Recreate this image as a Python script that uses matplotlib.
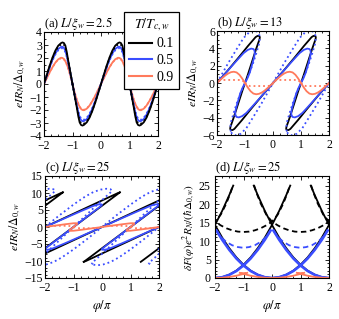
import numpy as np
import matplotlib.pyplot as plt
from matplotlib.ticker import MultipleLocator
from matplotlib.lines import Line2D

plt.rcParams['font.family'] = 'serif'
plt.rcParams['font.serif'] = ['Liberation Serif', 'DejaVu Serif']
plt.rcParams['mathtext.fontset'] = 'stix'
plt.rcParams['font.size'] = 7.5

# colours for T/Tc = 0.1, 0.5, 0.9
c_blk = 'black'
c_blu = '#3a4dff'
c_org = '#ff7a5c'

# ---------------- (a) L/xi = 2.5, one period phi/pi in [-1, 1] ----------------
phi_a = [-1.0, -0.95, -0.9, -0.85, -0.8, -0.75, -0.7, -0.65, -0.6, -0.5, -0.4, -0.3, -0.2, -0.1,
         0.0, 0.1, 0.2, 0.3, 0.4, 0.5, 0.6, 0.65, 0.7, 0.75, 0.8, 0.85, 0.9, 0.95, 1.0]
I_a_blk = [0, -0.6, -1.2, -1.8, -2.45, -2.95, -3.15, -3.2, -3.15, -2.95, -2.58, -2.05, -1.42, -0.72,
           0, 0.72, 1.42, 2.05, 2.58, 2.95, 3.15, 3.2, 3.15, 2.95, 2.45, 1.8, 1.2, 0.6, 0]
I_a_blu = [0, -0.56, -1.12, -1.65, -2.15, -2.55, -2.78, -2.86, -2.85, -2.7, -2.35, -1.88, -1.3, -0.66,
           0, 0.66, 1.3, 1.88, 2.35, 2.7, 2.85, 2.86, 2.78, 2.55, 2.15, 1.65, 1.12, 0.56, 0]
I_a_org = [0, -0.43, -0.85, -1.22, -1.52, -1.75, -1.92, -2.0, -2.02, -1.9, -1.65, -1.3, -0.9, -0.45,
           0, 0.45, 0.9, 1.3, 1.65, 1.9, 2.02, 2.0, 1.92, 1.75, 1.52, 1.22, 0.85, 0.43, 0]
I_a_blk_dot = [0, -0.58, -1.17, -1.75, -2.35, -2.8, -3.03, -3.1, -3.05, -2.88, -2.5, -2.0, -1.38, -0.7,
               0, 0.7, 1.38, 2.0, 2.5, 2.88, 3.05, 3.1, 3.03, 2.8, 2.35, 1.75, 1.17, 0.58, 0]
I_a_blu_dot = [0, -0.55, -1.1, -1.6, -2.08, -2.45, -2.66, -2.75, -2.75, -2.6, -2.28, -1.82, -1.26, -0.64,
               0, 0.64, 1.26, 1.82, 2.28, 2.6, 2.75, 2.75, 2.66, 2.45, 2.08, 1.6, 1.1, 0.55, 0]
I_a_org_dot = [0, -0.42, -0.83, -1.2, -1.5, -1.74, -1.9, -1.98, -1.98, -1.88, -1.65, -1.3, -0.9, -0.45,
               0, 0.45, 0.9, 1.3, 1.65, 1.88, 1.98, 1.98, 1.9, 1.74, 1.5, 1.2, 0.83, 0.42, 0]
shifts_a = [-2, 0, 2]

# ---------------- (b) L/xi = 13: branch through 0 + connector through 1 ----------------
phi_b_blk = [-1.5, -1.44, -1.38, -1.3, -1.1, -0.8, -0.4, 0.0, 0.4, 0.8, 1.1, 1.3, 1.38, 1.44, 1.5,
             1.53, 1.52, 1.47, 1.4, 1.3, 1.2, 1.1, 1.0, 0.9, 0.8, 0.7, 0.6, 0.53, 0.48, 0.47, 0.5]
I_b_blk = [-5.45, -5.42, -5.3, -5.0, -4.25, -3.05, -1.5, 0.0, 1.5, 3.05, 4.25, 5.0, 5.3, 5.42, 5.45,
           5.3, 5.05, 4.6, 3.95, 2.95, 1.95, 0.95, 0.0, -0.95, -1.95, -2.95, -3.95, -4.6, -5.05, -5.3, -5.45]
phi_b_blu = [-1.34, -1.3, -1.22, -1.1, -0.95, -0.75, -0.5, -0.25, 0.0, 0.25, 0.5, 0.75, 0.95, 1.1, 1.22,
             1.3, 1.34, 1.35, 1.32, 1.25, 1.17, 1.08, 1.0, 0.92, 0.83, 0.75, 0.68, 0.65, 0.66]
I_b_blu = [-3.75, -3.92, -3.97, -3.82, -3.45, -2.75, -1.85, -0.92, 0.0, 0.92, 1.85, 2.75, 3.45, 3.82, 3.97,
           3.92, 3.75, 3.4, 2.9, 2.1, 1.2, 0.5, 0.0, -0.5, -1.2, -2.1, -2.9, -3.4, -3.75]
phi_b_bld = [-1.5, -1.42, -1.3, -1.15, -0.95, -0.7, -0.4, 0.0, 0.4, 0.7, 0.95, 1.15, 1.3, 1.42, 1.5,
             1.53, 1.5, 1.4, 1.28, 1.14, 1.0, 0.86, 0.72, 0.6, 0.5, 0.47, 0.5]
I_b_bld = [-5.7, -5.95, -6.05, -5.85, -5.2, -3.9, -2.3, 0.0, 2.3, 3.9, 5.2, 5.85, 6.05, 5.95, 5.7,
           5.2, 4.5, 3.4, 2.2, 1.0, 0.0, -1.0, -2.2, -3.4, -4.5, -5.2, -5.7]
phi_b_org = [-1.0, -0.9, -0.8, -0.7, -0.6, -0.5, -0.4, -0.3, -0.2, -0.1, 0.0,
             0.1, 0.2, 0.3, 0.4, 0.5, 0.6, 0.7, 0.8, 0.9, 1.0]
I_b_org = [0, -0.52, -0.95, -1.22, -1.3, -1.25, -1.1, -0.88, -0.6, -0.3, 0,
           0.3, 0.6, 0.88, 1.1, 1.25, 1.3, 1.22, 0.95, 0.52, 0]
phi_b_ord = [-1.0, -0.95, -0.9, -0.82, -0.2, -0.08, -0.03, 0.0, 0.03, 0.08, 0.2, 0.82, 0.9, 0.95, 1.0]
I_b_ord = [0, -0.18, -0.28, -0.35, -0.35, -0.3, -0.2, 0, 0.2, 0.3, 0.35, 0.35, 0.28, 0.18, 0]
shifts_bc = [-4, -2, 0, 2]

# ---------------- (c) L/xi = 25 ----------------
phi_c_blk = [-2.64, -2.55, -2.0, -1.0, 0.0, 1.0, 2.0, 2.55, 2.64, 2.5, 2.0, 1.0, 0.0, -0.5, -0.64]
I_c_blk = [-10.25, -9.95, -7.8, -3.9, 0.0, 3.9, 7.8, 9.95, 10.25, 9.38, 6.25, 0.0, -6.25, -9.38, -10.25]
phi_c_blu = [-2.0, -1.95, -1.88, -1.78, -1.65, -1.5, -1.3, -1.0, -0.5, 0.0, 0.5, 1.0, 1.3, 1.5,
             1.65, 1.78, 1.88, 1.95, 2.0, 1.98, 1.9, 1.5, 1.0, 0.5, 0.1, 0.02, 0.0]
I_c_blu = [-6.6, -6.7, -6.65, -6.45, -6.05, -5.5, -4.8, -3.7, -1.85, 0.0, 1.85, 3.7, 4.8, 5.5,
           6.05, 6.45, 6.65, 6.7, 6.6, 6.3, 5.76, 3.2, 0.0, -3.2, -5.76, -6.3, -6.6]
phi_c_bld = [-2.3, -2.15, -1.95, -1.7, -1.4, -1.0, -0.5, 0.0, 0.5, 1.0, 1.4, 1.7, 1.95, 2.15, 2.3,
             2.36, 2.25, 2.0, 1.5, 1.0, 0.5, 0.0, -0.25, -0.36, -0.3]
I_c_bld = [-11.1, -11.25, -11.0, -10.3, -8.9, -6.6, -3.4, 0.0, 3.4, 6.6, 8.9, 10.3, 11.0, 11.25, 11.1,
           10.6, 9.8, 7.9, 3.95, 0.0, -3.95, -7.9, -9.8, -10.6, -11.1]
phi_c_org = [-1.13, -1.08, -1.0, -0.7, -0.35, 0.0, 0.35, 0.7, 1.0, 1.08, 1.13,
             1.12, 1.06, 1.0, 0.94, 0.88, 0.87]
I_c_org = [-1.05, -1.12, -1.1, -0.8, -0.4, 0.0, 0.4, 0.8, 1.1, 1.12, 1.05,
           0.8, 0.4, 0.0, -0.4, -0.8, -1.05]
phi_c_ord = [-1.0, -0.9, -0.8, -0.2, -0.05, 0.0, 0.05, 0.2, 0.8, 0.9, 1.0]
I_c_ord = [0, -0.25, -0.35, -0.35, -0.25, 0, 0.25, 0.35, 0.35, 0.25, 0]

# ---------------- (d) free energy, branches around their centres ----------------
centres_even = [-4, -2, 0, 2, 4]
centres_odd = [-3, -1, 1, 3]
d_blk = [-2.64, -2.5, -2.25, -2.0, -1.75, -1.5, -1.25, -1.0, -0.75, -0.5, -0.25, 0.0,
         0.25, 0.5, 0.75, 1.0, 1.25, 1.5, 1.75, 2.0, 2.25, 2.5, 2.64]
F_blk = [25.1, 22.5, 18.2, 14.4, 11.0, 8.1, 5.6, 3.6, 2.0, 0.9, 0.22, 0.0,
         0.22, 0.9, 2.0, 3.6, 5.6, 8.1, 11.0, 14.4, 18.2, 22.5, 25.1]
d_blk_dash = [-1.63, -1.55, -1.4, -1.2, -1.0, -0.8, -0.6, -0.4, -0.2, 0.0,
              0.2, 0.4, 0.6, 0.8, 1.0, 1.2, 1.4, 1.55, 1.63]
F_blk_dash = [25.2, 23.3, 20.3, 17.2, 15.3, 14.3, 13.5, 12.95, 12.6, 12.5,
              12.6, 12.95, 13.5, 14.3, 15.3, 17.2, 20.3, 23.3, 25.2]
d_blu = [-1.95, -1.75, -1.5, -1.25, -1.0, -0.75, -0.5, -0.25, 0.0, 0.25, 0.5, 0.75, 1.0, 1.25, 1.5, 1.75, 1.95]
F_blu = [12.9, 10.4, 7.65, 5.3, 3.4, 1.9, 0.85, 0.21, 0.0, 0.21, 0.85, 1.9, 3.4, 5.3, 7.65, 10.4, 12.9]
d_blu_dash = [-0.95, -0.85, -0.75, -0.6, -0.4, -0.2, 0.0, 0.2, 0.4, 0.6, 0.75, 0.85, 0.95]
F_blu_dash = [12.9, 11.7, 10.8, 9.8, 8.9, 8.4, 8.2, 8.4, 8.9, 9.8, 10.8, 11.7, 12.9]
d_org = [-1.13, -1.0, -0.75, -0.5, -0.25, 0.0, 0.25, 0.5, 0.75, 1.0, 1.13]
F_org = [1.4, 1.1, 0.62, 0.28, 0.07, 0.0, 0.07, 0.28, 0.62, 1.1, 1.4]
d_org_dash = [-0.13, 0.0, 0.13]
F_org_dash = [1.4, 1.3, 1.4]

legend_labels = ['0.1', '0.5', '0.9']


def periodic(ax, x, y, shifts, **kw):
    for s in shifts:
        ax.plot(np.asarray(x) + s, y, **kw)


def style(ax, ymaj, ymin, ypad=1.5):
    ax.set_xlim(-2, 2)
    ax.xaxis.set_major_locator(MultipleLocator(1))
    ax.xaxis.set_minor_locator(MultipleLocator(0.25))
    ax.yaxis.set_major_locator(MultipleLocator(ymaj))
    ax.yaxis.set_minor_locator(MultipleLocator(ymin))
    ax.tick_params(which='both', direction='in', top=True, right=True, labelsize=8.5, width=0.6)
    ax.tick_params(axis='x', pad=3)
    ax.tick_params(axis='y', pad=ypad)
    ax.tick_params(which='major', length=3)
    ax.tick_params(which='minor', length=1.5)
    for sp in ax.spines.values():
        sp.set_linewidth(0.8)


fig = plt.figure(figsize=(3.39, 3.19), dpi=100)
W, H = 339.0, 319.0
ax_a = fig.add_axes([44 / W, 1 - 136 / H, 114 / W, 104 / H])
ax_b = fig.add_axes([217 / W, 1 - 135 / H, 112 / W, 104 / H])
ax_c = fig.add_axes([45 / W, 1 - 278 / H, 114 / W, 102 / H])
ax_d = fig.add_axes([215 / W, 1 - 278 / H, 114 / W, 102 / H])

lw = 1.3
# (a)
periodic(ax_a, phi_a, I_a_org, shifts_a, color=c_org, lw=lw)
periodic(ax_a, phi_a, I_a_org_dot, shifts_a, color=c_org, lw=lw, ls=':')
periodic(ax_a, phi_a, I_a_blu, shifts_a, color=c_blu, lw=lw)
periodic(ax_a, phi_a, I_a_blu_dot, shifts_a, color=c_blu, lw=lw, ls=':')
periodic(ax_a, phi_a, I_a_blk, shifts_a, color=c_blk, lw=lw)
periodic(ax_a, phi_a, I_a_blk_dot, shifts_a, color=c_blk, lw=lw, ls=':')
ax_a.set_ylim(-4, 4)
style(ax_a, 1, 0.5)
ax_a.set_ylabel(r'$eIR_N/\Delta_{0,w}$', fontsize=8.5, labelpad=1)
ax_a.set_title(r'(a) $L/\xi_w = 2.5$', loc='left', fontsize=9, pad=2)

# (b)
periodic(ax_b, phi_b_blk, I_b_blk, shifts_bc, color=c_blk, lw=lw)
periodic(ax_b, phi_b_bld, I_b_bld, shifts_bc, color=c_blu, lw=lw, ls=':')
periodic(ax_b, phi_b_blu, I_b_blu, shifts_bc, color=c_blu, lw=lw)
periodic(ax_b, phi_b_ord, I_b_ord, shifts_a, color=c_org, lw=lw, ls=':')
periodic(ax_b, phi_b_org, I_b_org, shifts_a, color=c_org, lw=lw)
ax_b.set_ylim(-6, 6)
style(ax_b, 2, 0.5)
ax_b.set_ylabel(r'$eIR_N/\Delta_{0,w}$', fontsize=8.5, labelpad=1)
ax_b.set_title(r'(b) $L/\xi_w = 13$', loc='left', fontsize=9, pad=2)

# (c)
periodic(ax_c, phi_c_blk, I_c_blk, shifts_bc, color=c_blk, lw=lw)
periodic(ax_c, phi_c_bld, I_c_bld, shifts_bc, color=c_blu, lw=lw, ls=':')
periodic(ax_c, phi_c_blu, I_c_blu, shifts_bc, color=c_blu, lw=lw)
periodic(ax_c, phi_c_ord, I_c_ord, shifts_a, color=c_org, lw=lw, ls=':')
periodic(ax_c, phi_c_org, I_c_org, shifts_bc, color=c_org, lw=lw)
ax_c.set_ylim(-15, 15)
style(ax_c, 5, 1)
ax_c.set_ylabel(r'$eIR_N/\Delta_{0,w}$', fontsize=8.5, labelpad=1)
ax_c.set_xlabel(r'$\varphi/\pi$', fontsize=9, labelpad=3)
ax_c.set_title(r'(c) $L/\xi_w = 25$', loc='left', fontsize=9, pad=2)

# (d)
periodic(ax_d, d_blk, F_blk, centres_even, color=c_blk, lw=lw)
periodic(ax_d, d_blk_dash, F_blk_dash, centres_odd, color=c_blk, lw=lw, ls='--', dashes=(3, 2))
periodic(ax_d, d_blu, F_blu, centres_even, color=c_blu, lw=lw + 0.6)
periodic(ax_d, d_blu_dash, F_blu_dash, centres_odd, color=c_blu, lw=lw, ls='--', dashes=(3, 2))
periodic(ax_d, d_org, F_org, centres_even, color=c_org, lw=lw)
periodic(ax_d, d_org_dash, F_org_dash, centres_odd, color=c_org, lw=lw, ls='--')
ax_d.set_ylim(0, 27.7)
style(ax_d, 5, 1, ypad=3)
ax_d.set_ylabel(r'$\delta F(\varphi)e^2R_N/(\hbar\Delta_{0,w})$', fontsize=8, labelpad=1)
ax_d.set_xlabel(r'$\varphi/\pi$', fontsize=9, labelpad=3)
ax_d.set_title(r'(d) $L/\xi_w = 25$', loc='left', fontsize=9, pad=2)

handles = [Line2D([], [], color=c, lw=1.5) for c in (c_blk, c_blu, c_org)]
leg = fig.legend(handles, legend_labels, title=r'$T/T_{c,w}$', loc='upper left',
                 bbox_to_anchor=(124 / W, 1 - 12 / H), frameon=True, fancybox=False,
                 edgecolor='black', framealpha=1, fontsize=10, title_fontsize=10,
                 handlelength=1.7, handletextpad=0.3, borderpad=0.35, labelspacing=0.28,
                 borderaxespad=0)
leg.get_frame().set_linewidth(0.9)

fig.savefig('out.png', dpi=100)
